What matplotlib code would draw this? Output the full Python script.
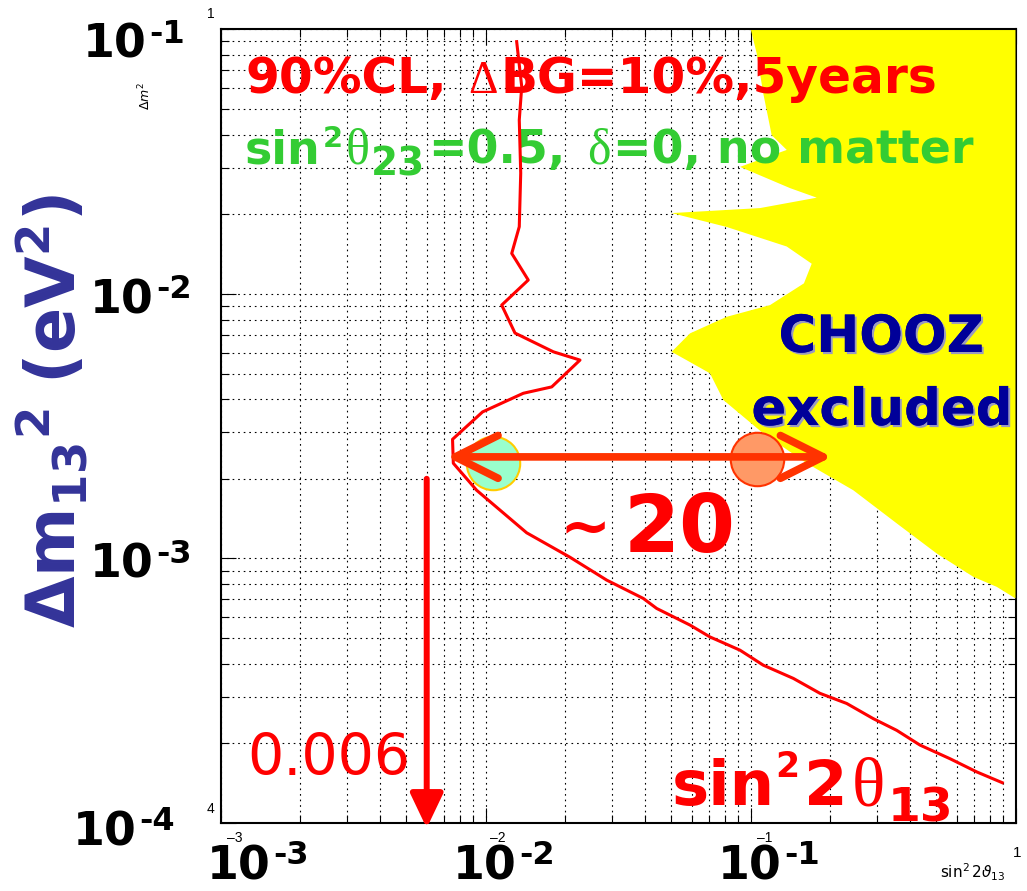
import matplotlib
matplotlib.use("Agg")
import matplotlib.pyplot as plt
import matplotlib.patheffects as pe
from matplotlib.transforms import IdentityTransform

plt.rcParams['mathtext.fontset'] = 'dejavusans'

# 90% CL sensitivity contour (sin^2 2theta13, dm^2_13 in eV^2)
sens_x = [0.01311, 0.01370, 0.01341, 0.01358, 0.01341, 0.01256, 0.01450, 0.01151, 0.01292,
          0.01803, 0.02273, 0.01778, 0.01389, 0.00975, 0.00751, 0.00756, 0.00926, 0.01430,
          0.02085, 0.02867, 0.03940, 0.04426, 0.0591, 0.0703, 0.0913, 0.1117, 0.1451,
          0.1830, 0.2307, 0.2906, 0.3562, 0.4362, 0.5659, 0.7140, 0.8917]
sens_y = [0.0898, 0.0607, 0.0454, 0.0286, 0.01794, 0.01422, 0.01128, 0.00907, 0.00711,
          0.00604, 0.00562, 0.00445, 0.00421, 0.00358, 0.00282, 0.00229, 0.00181, 0.00125,
          0.00101, 0.000828, 0.000706, 0.000647, 0.000560, 0.000505, 0.000450, 0.000395, 0.000352,
          0.000309, 0.000283, 0.000248, 0.000224, 0.000197, 0.000175, 0.000156, 0.000142]

# CHOOZ excluded region boundary
chooz_x = [0.1002, 0.1055, 0.1117, 0.1202, 0.1370, 0.0913, 0.1410, 0.1778, 0.1086, 0.0504,
           0.0813, 0.1370, 0.1702, 0.1591, 0.1185, 0.0813, 0.0591, 0.0504, 0.0703, 0.0790,
           0.1117, 0.1630, 0.2443, 0.3562, 0.5042, 0.6933, 0.8494, 1.0, 1.0]
chooz_y = [0.1, 0.0812, 0.0573, 0.0398, 0.0350, 0.0302, 0.0251, 0.0231, 0.0211, 0.0202,
           0.0179, 0.0151, 0.0130, 0.01096, 0.00907, 0.00819, 0.00709, 0.00604, 0.00501, 0.00397,
           0.00297, 0.00229, 0.00181, 0.001357, 0.001044, 0.000852, 0.000781, 0.000706, 0.1]

# markers at the reach of this experiment and of CHOOZ
reach_x = [0.0107, 0.1055]
reach_y = [0.00229, 0.00237]
span_x = [0.00714, 0.2025]
span_y = 0.00242
limit_x = 0.006
limit_y = [0.0020, 0.0000956]

# hand-placed decade labels (exponent, x, baseline) in pixels
ylabels = [("-1", 83, 58), ("-2", 90, 313), ("-3", 90, 578), ("-4", 73, 845)]
xlabels = [("-3", 207, 879), ("-2", 453, 879), ("-1", 718, 879)]

W, H = 1027, 891
SB = 'DejaVu Sans'
SERIF = 'Liberation Serif'
RED = '#ff0000'
GREEN = '#33cc33'

fig = plt.figure(figsize=(W / 100, H / 100), dpi=100)
ax = fig.add_axes([220.5 / W, 1 - 823 / H, 795 / W, (823 - 29.3) / H])
ax.set_xscale('log')
ax.set_yscale('log')
ax.set_xlim(1e-3, 1)
ax.set_ylim(1e-4, 1e-1)

ax.set_axisbelow(True)
ax.grid(True, which='both', color='black', linestyle=(0, (1.5, 3.5)), linewidth=0.8)
ax.tick_params(which='both', direction='in', top=True, right=True,
               labelbottom=False, labelleft=False, width=0.8, color='black')
ax.tick_params(which='major', length=11)
ax.tick_params(which='minor', length=5.5)
for s in ax.spines.values():
    s.set_linewidth(1.5)
ax.spines['right'].set_zorder(1.9)

ax.fill(chooz_x, chooz_y, color='#ffff00', lw=0, zorder=2)
ax.plot(sens_x, sens_y, color=RED, lw=2.2, zorder=4)

ax.scatter(reach_x[:1], reach_y[:1], s=1480, c='#99ffcc', edgecolors='#ffcc00', linewidths=1.5, zorder=5)
ax.scatter(reach_x[1:], reach_y[1:], s=1480, c='#ff9966', edgecolors='#ff3300', linewidths=1.5, zorder=5)

ax.annotate('', xy=(span_x[1], span_y), xytext=(span_x[0], span_y),
            arrowprops=dict(arrowstyle='<->,head_length=2.2,head_width=1.1', mutation_scale=14,
                            lw=5.5, color='#ff3300', capstyle='round', joinstyle='round',
                            shrinkA=0, shrinkB=0), zorder=6)
ax.annotate('', xy=(limit_x, limit_y[1]), xytext=(limit_x, limit_y[0]),
            arrowprops=dict(arrowstyle='-|>,head_length=1.05,head_width=0.5', mutation_scale=20,
                            lw=4.3, color=RED, shrinkA=0, shrinkB=0),
            annotation_clip=False, zorder=6)

renderer = fig.canvas.get_renderer()


def put(x, y, s, **kw):
    # x, y in pixels from the top-left corner
    kw.setdefault('va', 'baseline')
    kw.setdefault('zorder', 3)
    return ax.text(x, H - y, s, transform=IdentityTransform(), clip_on=False, **kw)


def run(x, y, pieces, color):
    for s, size, family, weight, rise, gap in pieces:
        t = put(x + gap, y - rise, s, fontsize=size, family=family, weight=weight, color=color)
        x = t.get_window_extent(renderer).x1


run(246, 93, [("90%CL,", 35, SB, 'bold', 0, 0),
              ("Δ", 33, SERIF, 'normal', 0, 21),
              ("BG=10%,5years", 35, SB, 'bold', 0, 2)], RED)
run(245, 163, [("sin", 33, SB, 'bold', 0, 0),
               ("2", 21, SB, 'bold', 16, 2),
               ("θ", 36, SERIF, 'normal', 0, 3),
               ("23", 28, SB, 'bold', -12, 1),
               ("=0.5,", 33, SB, 'bold', 0, 3),
               ("δ", 36, SERIF, 'normal', 0, 22),
               ("=0, no matter", 33, SB, 'bold', 0, 2)], GREEN)
run(672, 805, [("sin", 45, SB, 'bold', 0, 0),
               ("2", 25, SB, 'bold', 28, 0),
               ("2", 45, SB, 'bold', 0, 5),
               ("θ", 50, SERIF, 'normal', 0, 4),
               ("13", 34, SB, 'bold', -16, 3)], RED)
run(560, 552, [("~", 44, SB, 'bold', 5, 0),
               ("20", 58, SB, 'bold', 0, 12)], RED)
put(247, 775, "0.006", fontsize=41, family=SB, color=RED)

shadow = [pe.withSimplePatchShadow(offset=(1.5, -1.5), shadow_rgbFace='#9a9abf', alpha=1.0), pe.Normal()]
put(881, 352, "CHOOZ", fontsize=37, family=SB, weight='bold', color='#000099', ha='center',
    path_effects=shadow)
put(882, 425, "excluded", fontsize=37, family=SB, weight='bold', color='#000099', ha='center',
    path_effects=shadow)

# axis labels
put(52, 411, r"$\mathbf{\Delta m_{13}{}^{2}\ (eV^{2})}$", fontsize=48, color='#333399',
    rotation=90, ha='center', va='center')
for lab, x, y in ylabels + xlabels:
    run(x, y, [("10", 33, SB, 'bold', 0, 0),
               (lab, 23, SB, 'bold', 15, 2)], 'black')

# small frame labels
small = dict(family='Liberation Sans', color='black')
put(207, 18, "1", fontsize=10, **small)
put(207, 813, "4", fontsize=10, **small)
put(145, 96, r"$\Delta m^{2}$", fontsize=9, rotation=90, ha='center', va='center', **small)
put(227, 831, "\u20133", fontsize=10, va='top', **small)
put(490, 831, "\u20132", fontsize=10, va='top', **small)
put(757, 831, "\u20131", fontsize=10, va='top', **small)
put(1013, 857, "1", fontsize=11, **small)
put(940, 878, r"$\sin^{2}2\vartheta_{13}$", fontsize=11, **small)

fig.savefig("out.png", dpi=100)
